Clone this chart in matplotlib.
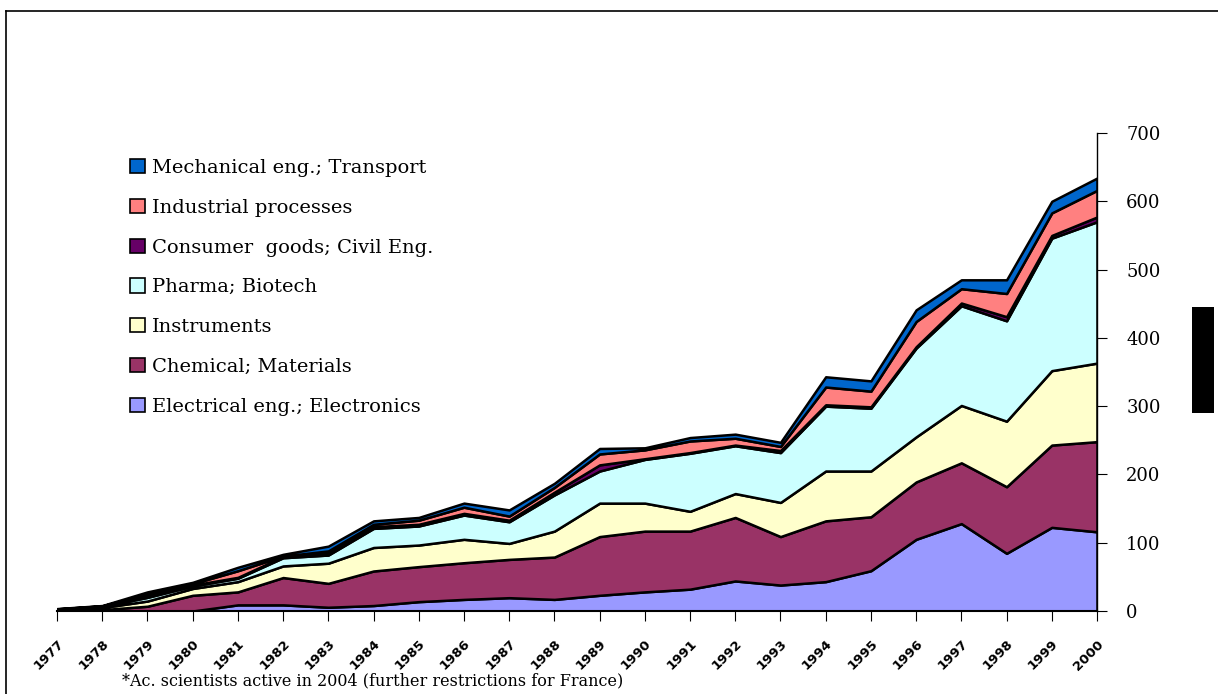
import matplotlib
matplotlib.use("Agg")
import numpy as np
from matplotlib import pyplot as plt
from matplotlib.patches import Patch, Rectangle
from matplotlib.lines import Line2D

years = [str(y) for y in range(1977, 2001)]

electrical = [0, 0, 0, 0, 9, 9, 5.5, 8, 13.7, 17, 19.5, 17, 23, 28, 32, 44, 38, 43, 59, 105, 128, 84.5, 122.5, 116]
chemical = [1.5, 2, 7, 23, 19, 40, 35, 50.6, 51.3, 53.7, 56.1, 62, 86, 89, 85, 93, 71, 89, 79, 84, 89, 97.5, 120.5, 132]
instruments = [0.5, 3, 7.6, 10, 15, 17, 29.5, 34.4, 31.6, 34.3, 23.4, 38, 49, 41, 29, 35, 50, 73, 67, 66, 84, 96, 109, 115]
pharma = [0.5, 1.5, 5.4, 3.6, 5, 12, 12, 28, 27.9, 35.5, 31.7, 53, 47, 64, 85, 70, 73, 95, 92, 130, 146, 147, 194, 207]
consumer = [0.3, 0.5, 2, 1.4, 1.3, 1.6, 2.4, 2.5, 2.5, 2.5, 2.3, 4, 9, 1, 1, 1, 3, 2, 2, 2, 4, 6, 4, 7]
industrial = [0.3, 0.5, 3, 2, 9.7, 0.9, 3.6, 3.5, 6, 9, 6, 7, 16, 13, 17, 10, 6, 26, 23, 37, 21, 34, 33, 39]
mechanical = [0.4, 0.5, 3, 2, 5, 2.5, 7, 5, 4, 6, 9, 6, 8, 3, 5, 6, 6, 15, 15, 17, 13, 20, 17, 18]

labels = ["Electrical eng.; Electronics", "Chemical; Materials", "Instruments",
          "Pharma; Biotech", "Consumer  goods; Civil Eng.", "Industrial processes",
          "Mechanical eng.; Transport"]
colors = ["#9999FF", "#993366", "#FFFFCC", "#CCFFFF", "#660066", "#FF8080", "#0066CC"]

serif = ["DejaVu Serif"]

fig = plt.figure(figsize=(12.18, 6.94), dpi=100)
ax = fig.add_axes([57 / 1218, 1 - 611 / 694, 1040 / 1218, 478 / 694])

x = np.arange(len(years))
series = [electrical, chemical, instruments, pharma, consumer, industrial, mechanical]
ax.stackplot(x, *series, colors=colors, edgecolor="black", linewidth=1.8)

ax.set_xlim(0, len(years) - 1)
ax.set_ylim(0, 700)
ax.yaxis.tick_right()
ax.set_yticks(range(0, 701, 100))
for side in ["top", "left"]:
    ax.spines[side].set_visible(False)
ax.spines["bottom"].set_linewidth(1.5)
ax.spines["right"].set_linewidth(1)
ax.tick_params(axis="y", direction="out", length=7, pad=14, labelsize=13)
for t in ax.get_yticklabels():
    t.set_fontfamily(serif)
ax.set_xticks(x)
ax.set_xticklabels(years, rotation=45, ha="right", va="top", rotation_mode="anchor",
                   fontsize=9.5, fontweight="bold")
ax.tick_params(axis="x", direction="out", length=7, pad=12)

handles = [Patch(facecolor=c, edgecolor="black", linewidth=1.2) for c in colors]
leg = fig.legend(handles[::-1], labels[::-1], loc="upper left",
                 bbox_to_anchor=(130 / 1218, 1 - 159 / 694), frameon=False,
                 prop={"family": serif, "size": 14}, handlelength=0.75, handleheight=0.75,
                 handletextpad=0.4, labelspacing=1.12, borderpad=0, borderaxespad=0)

fig.text(122 / 1218, 1 - 681 / 694, "*Ac. scientists active in 2004 (further restrictions for France)",
         fontsize=11.5, family=serif, va="center")

# black block at right edge and frame lines
fig.patches.append(Rectangle((1192 / 1218, 1 - 413 / 694), 22 / 1218, 106 / 694,
                             transform=fig.transFigure, facecolor="black", edgecolor="none"))
fig.lines.append(Line2D([6 / 1218, 6 / 1218], [0, 1 - 11 / 694], transform=fig.transFigure,
                        color="black", linewidth=1.2))
fig.lines.append(Line2D([6 / 1218, 1], [1 - 11 / 694, 1 - 11 / 694], transform=fig.transFigure,
                        color="black", linewidth=1.2))

fig.savefig("out.png", dpi=100)
